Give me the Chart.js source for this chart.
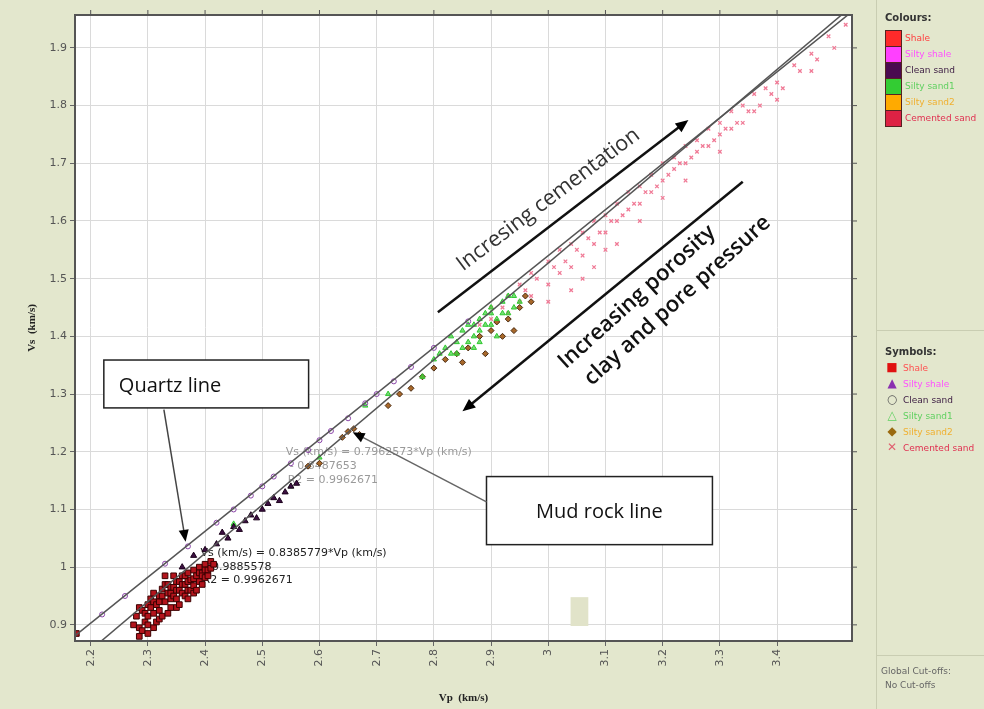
<!DOCTYPE html>
<html>
<head>
<meta charset="utf-8">
<script src="https://cdn.jsdelivr.net/npm/chart.js@4.4.0/dist/chart.umd.min.js"></script>
<style>
  html, body { margin: 0; padding: 0; background: #e3e7cd; }
  #wrap { position: relative; width: 984px; height: 709px; overflow: hidden; }
  #myChart { position: absolute; left: 0; top: 0; }
  #side { position: absolute; left: 876px; top: 0; width: 108px; height: 709px;
          border-left: 1px solid #c9cdb2; font-family: "DejaVu Sans", sans-serif; font-size: 9px;
          white-space: nowrap; overflow: hidden; }
  .hdr { position: absolute; left: 8px; font-weight: bold; color: #333; font-size: 10px; }
  .row { position: absolute; left: 8px; height: 16px; line-height: 16px; }
  .sw { display: inline-block; width: 15px; height: 15px; vertical-align: top; border: 1px solid #552222; border-bottom: none; margin-right: 3px; }
  .sym { display: inline-block; width: 14px; text-align: center; margin-right: 4px; font-size: 12px; }
  .sep { position: absolute; left: 0; width: 108px; border-top: 1px solid #c9cdb2; }
  .note { position: absolute; left: 4px; color: #666; font-size: 9px; }
</style>
</head>
<body>
<div id="wrap">
  <canvas id="myChart" width="984" height="709"></canvas>
  <div id="side">
    <div class="hdr" style="top:12px">Colours:</div>
    <div class="row" style="top:30px"><span class="sw" style="background:#ff2a2a"></span><span style="color:#ff4040">Shale</span></div>
    <div class="row" style="top:46px"><span class="sw" style="background:#ff40ff"></span><span style="color:#ff50ff">Silty shale</span></div>
    <div class="row" style="top:62px"><span class="sw" style="background:#4a0a50"></span><span style="color:#3a1a40">Clean sand</span></div>
    <div class="row" style="top:78px"><span class="sw" style="background:#33cc33"></span><span style="color:#60d060">Silty sand1</span></div>
    <div class="row" style="top:94px"><span class="sw" style="background:#ffaa00"></span><span style="color:#f0b030">Silty sand2</span></div>
    <div class="row" style="top:110px"><span class="sw" style="background:#dd2244;border-bottom:1px solid #552222"></span><span style="color:#e03050">Cemented sand</span></div>
    <div class="sep" style="top:330px"></div>
    <div class="hdr" style="top:346px">Symbols:</div>
    <div class="row" style="top:359px"><span class="sym" style="color:#e01010">&#9632;</span><span style="color:#ff5050">Shale</span></div>
    <div class="row" style="top:375px"><span class="sym" style="color:#8a30b0">&#9650;</span><span style="color:#ff50ff">Silty shale</span></div>
    <div class="row" style="top:391px"><span class="sym" style="color:#555">&#9675;</span><span style="color:#3a1a40">Clean sand</span></div>
    <div class="row" style="top:407px"><span class="sym" style="color:#60d060">&#9651;</span><span style="color:#60d060">Silty sand1</span></div>
    <div class="row" style="top:423px"><span class="sym" style="color:#9a6a10">&#9670;</span><span style="color:#f0b030">Silty sand2</span></div>
    <div class="row" style="top:439px"><span class="sym" style="color:#e06070">&#10005;</span><span style="color:#e03050">Cemented sand</span></div>
    <div class="sep" style="top:655px"></div>
    <div class="note" style="top:666px">Global Cut-offs:</div>
    <div class="note" style="top:680px; left:8px">No Cut-offs</div>
  </div>
</div>
<script>
// Axis ticks
const xTicks = [2.2, 2.3, 2.4, 2.5, 2.6, 2.7, 2.8, 2.9, 3.0, 3.1, 3.2, 3.3, 3.4];
const yTicks = [0.9, 1.0, 1.1, 1.2, 1.3, 1.4, 1.5, 1.6, 1.7, 1.8, 1.9];

// Regression lines: Vs = a*Vp + b
const quartzLine = { a: 0.7962573, b: -0.8487653 };
const mudRockLine = { a: 0.8385779, b: -0.9885578 };
const lineVpRange = [2.1, 3.6];

// Scatter data [Vp, Vs]
const shalePts = [
  [2.175, 0.885], [2.275, 0.9], [2.28, 0.915], [2.285, 0.895], [2.285, 0.88], [2.285, 0.93], [2.29, 0.925],
  [2.29, 0.89], [2.295, 0.905], [2.295, 0.92], [2.3, 0.935], [2.3, 0.915], [2.3, 0.9], [2.3, 0.885],
  [2.305, 0.945], [2.305, 0.93], [2.31, 0.92], [2.31, 0.955], [2.31, 0.94], [2.31, 0.895], [2.315, 0.935],
  [2.315, 0.905], [2.32, 0.95], [2.32, 0.925], [2.32, 0.94], [2.32, 0.91], [2.325, 0.962], [2.325, 0.915],
  [2.325, 0.95], [2.33, 0.94], [2.33, 0.97], [2.33, 0.985], [2.335, 0.955], [2.335, 0.97], [2.335, 0.92],
  [2.34, 0.93], [2.34, 0.965], [2.34, 0.945], [2.34, 0.955], [2.345, 0.95], [2.345, 0.985], [2.345, 0.965],
  [2.35, 0.975], [2.35, 0.945], [2.35, 0.96], [2.35, 0.93], [2.355, 0.96], [2.355, 0.935], [2.355, 0.975],
  [2.36, 0.985], [2.36, 0.955], [2.36, 0.97], [2.365, 0.97], [2.365, 0.985], [2.365, 0.95], [2.37, 0.99],
  [2.37, 0.96], [2.37, 0.945], [2.37, 0.975], [2.375, 0.978], [2.375, 0.96], [2.38, 0.995], [2.38, 0.968],
  [2.38, 0.98], [2.38, 0.955], [2.385, 0.985], [2.385, 0.96], [2.39, 1.0], [2.39, 0.975], [2.39, 0.99],
  [2.395, 0.99], [2.395, 0.97], [2.395, 0.985], [2.4, 1.005], [2.4, 0.982], [2.4, 0.995], [2.405, 0.995],
  [2.405, 0.985], [2.41, 1.01], [2.41, 0.998], [2.415, 1.005]
];
const siltyShalePts = [
  [2.36, 1.0], [2.38, 1.02], [2.4, 1.03], [2.42, 1.04], [2.43, 1.06], [2.44, 1.05], [2.45, 1.07],
  [2.46, 1.065], [2.47, 1.08], [2.48, 1.09], [2.49, 1.085], [2.5, 1.1], [2.51, 1.11], [2.52, 1.12],
  [2.53, 1.115], [2.54, 1.13], [2.55, 1.14], [2.56, 1.145]
];
const cleanSandPts = [
  [2.22, 0.918], [2.26, 0.95], [2.33, 1.006], [2.37, 1.036], [2.42, 1.077], [2.45, 1.1], [2.48, 1.124],
  [2.5, 1.14], [2.52, 1.157], [2.55, 1.18], [2.58, 1.203], [2.6, 1.22], [2.62, 1.236], [2.65, 1.258],
  [2.68, 1.284], [2.7, 1.3], [2.73, 1.322], [2.76, 1.347], [2.8, 1.38], [2.86, 1.426]
];
const siltySand1Pts = [
  [2.45, 1.075], [2.55, 1.14], [2.6, 1.19], [2.68, 1.28], [2.72, 1.3], [2.78, 1.33], [2.8, 1.36],
  [2.81, 1.37], [2.82, 1.38], [2.83, 1.4], [2.83, 1.37], [2.84, 1.37], [2.84, 1.39], [2.85, 1.41],
  [2.85, 1.38], [2.86, 1.39], [2.86, 1.42], [2.87, 1.4], [2.87, 1.38], [2.87, 1.42], [2.88, 1.43],
  [2.88, 1.41], [2.88, 1.39], [2.89, 1.44], [2.89, 1.42], [2.9, 1.42], [2.9, 1.45], [2.9, 1.44],
  [2.91, 1.43], [2.91, 1.4], [2.92, 1.46], [2.92, 1.44], [2.93, 1.44], [2.93, 1.47], [2.94, 1.45],
  [2.94, 1.47], [2.95, 1.46]
];
const siltySand2Pts = [
  [2.58, 1.175], [2.6, 1.18], [2.64, 1.225], [2.65, 1.235], [2.66, 1.24], [2.67, 1.23], [2.72, 1.28],
  [2.74, 1.3], [2.76, 1.31], [2.78, 1.33], [2.8, 1.345], [2.82, 1.36], [2.84, 1.37], [2.85, 1.355],
  [2.86, 1.38], [2.88, 1.4], [2.89, 1.37], [2.9, 1.41], [2.91, 1.425], [2.92, 1.4], [2.93, 1.43],
  [2.94, 1.41], [2.95, 1.45], [2.96, 1.47], [2.97, 1.46]
];
const cementedSandPts = [
  [2.88, 1.42], [2.9, 1.45], [2.9, 1.43], [2.92, 1.45], [2.93, 1.47], [2.93, 1.44], [2.95, 1.49], [2.95, 1.46],
  [2.96, 1.48], [2.97, 1.51], [2.97, 1.47], [2.98, 1.5], [3.0, 1.53], [3.0, 1.49], [3.0, 1.46], [3.01, 1.52],
  [3.02, 1.55], [3.02, 1.51], [3.03, 1.53], [3.04, 1.56], [3.04, 1.52], [3.04, 1.48], [3.05, 1.55],
  [3.06, 1.58], [3.06, 1.54], [3.06, 1.5], [3.07, 1.57], [3.08, 1.6], [3.08, 1.56], [3.08, 1.52],
  [3.09, 1.58], [3.1, 1.61], [3.1, 1.58], [3.1, 1.55], [3.11, 1.6], [3.12, 1.63], [3.12, 1.6], [3.12, 1.56],
  [3.13, 1.61], [3.14, 1.65], [3.14, 1.62], [3.15, 1.63], [3.16, 1.66], [3.16, 1.63], [3.16, 1.6],
  [3.17, 1.65], [3.18, 1.68], [3.18, 1.65], [3.19, 1.66], [3.2, 1.7], [3.2, 1.67], [3.2, 1.64],
  [3.21, 1.68], [3.22, 1.71], [3.22, 1.69], [3.23, 1.7], [3.24, 1.73], [3.24, 1.7], [3.24, 1.67],
  [3.25, 1.71], [3.26, 1.74], [3.26, 1.72], [3.27, 1.73], [3.28, 1.76], [3.28, 1.73], [3.29, 1.74],
  [3.3, 1.77], [3.3, 1.75], [3.3, 1.72], [3.31, 1.76], [3.32, 1.79], [3.32, 1.76], [3.33, 1.77],
  [3.34, 1.8], [3.34, 1.77], [3.35, 1.79], [3.36, 1.82], [3.36, 1.79], [3.37, 1.8], [3.38, 1.83],
  [3.39, 1.82], [3.4, 1.84], [3.4, 1.81], [3.41, 1.83], [3.43, 1.87], [3.44, 1.86], [3.46, 1.89],
  [3.46, 1.86], [3.47, 1.88], [3.49, 1.92], [3.5, 1.9], [3.52, 1.94]
];

function toXY(arr) {
  return arr.map(p => ({ x: p[0], y: p[1] }));
}
function lineData(l) {
  return lineVpRange.map(v => ({ x: v, y: l.a * v + l.b }));
}

// Draw an arrow between two canvas points
function drawArrow(ctx, x1, y1, x2, y2, color, width, head) {
  const ang = Math.atan2(y2 - y1, x2 - x1);
  ctx.save();
  ctx.strokeStyle = color;
  ctx.lineWidth = width;
  ctx.beginPath();
  ctx.moveTo(x1, y1);
  ctx.lineTo(x2 - Math.cos(ang) * head * 0.8, y2 - Math.sin(ang) * head * 0.8);
  ctx.stroke();
  ctx.fillStyle = '#000';
  ctx.beginPath();
  ctx.moveTo(x2, y2);
  ctx.lineTo(x2 - head * Math.cos(ang - 0.4), y2 - head * Math.sin(ang - 0.4));
  ctx.lineTo(x2 - head * Math.cos(ang + 0.4), y2 - head * Math.sin(ang + 0.4));
  ctx.closePath();
  ctx.fill();
  ctx.restore();
}

function rotText(ctx, text, x, y, deg, font, color) {
  ctx.save();
  ctx.translate(x, y);
  ctx.rotate(deg * Math.PI / 180);
  ctx.font = font;
  ctx.fillStyle = color;
  ctx.textAlign = 'center';
  ctx.textBaseline = 'middle';
  ctx.fillText(text, 0, 0);
  ctx.restore();
}

const decor = {
  id: 'decor',
  beforeDraw(chart) {
    const { ctx, chartArea: a } = chart;
    ctx.save();
    ctx.fillStyle = '#ffffff';
    ctx.fillRect(a.left, a.top, a.right - a.left, a.bottom - a.top);
    ctx.restore();
  },
  beforeDatasetsDraw(chart) {
    const { ctx, scales: { x, y } } = chart;
    ctx.save();
    ctx.font = '11px "DejaVu Sans"';
    ctx.textBaseline = 'middle';
    // equation of the upper line (grey)
    ctx.fillStyle = '#9a9a9a';
    let px = x.getPixelForValue(2.541), py = y.getPixelForValue(1.2);
    ctx.fillText('Vs (km/s) = 0.7962573*Vp (km/s)', px, py);
    ctx.fillText('- 0.8487653', px + 4, py + 14);
    ctx.fillText('R2 = 0.9962671', px + 2, py + 28);
    // equation of the lower line
    ctx.fillStyle = '#222';
    px = x.getPixelForValue(2.392); py = y.getPixelForValue(1.025);
    ctx.fillText('Vs (km/s) = 0.8385779*Vp (km/s)', px, py);
    ctx.fillText('- 0.9885578', px + 4, py + 14);
    ctx.fillText('R2 = 0.9962671', px + 2, py + 27);
    // small beige patch
    ctx.fillStyle = '#e1e3c9';
    const bx = x.getPixelForValue(3.039), by = y.getPixelForValue(0.948);
    ctx.fillRect(bx, by, x.getPixelForValue(3.07) - bx, y.getPixelForValue(0.898) - by);
    ctx.restore();
  },
  afterDatasetsDraw(chart) {
    const { ctx, chartArea: a, scales: { x, y } } = chart;
    const X = v => x.getPixelForValue(v), Y = v => y.getPixelForValue(v);

    // frame + ticks on top and right
    ctx.save();
    ctx.strokeStyle = '#555';
    ctx.lineWidth = 2;
    ctx.strokeRect(a.left, a.top, a.right - a.left, a.bottom - a.top);
    ctx.lineWidth = 1;
    ctx.beginPath();
    xTicks.forEach(v => { ctx.moveTo(X(v), a.top); ctx.lineTo(X(v), a.top - 5); });
    yTicks.forEach(v => { ctx.moveTo(a.right, Y(v)); ctx.lineTo(a.right + 5, Y(v)); });
    ctx.stroke();
    ctx.restore();

    // label boxes
    ctx.save();
    ctx.fillStyle = '#fff';
    ctx.strokeStyle = '#222';
    ctx.lineWidth = 1.5;
    let x1 = X(2.223), y1 = Y(1.359), x2 = X(2.581), y2 = Y(1.276);
    ctx.fillRect(x1, y1, x2 - x1, y2 - y1);
    ctx.strokeRect(x1, y1, x2 - x1, y2 - y1);
    ctx.fillStyle = '#111';
    ctx.font = '20px "Open Sans"';
    ctx.textBaseline = 'middle';
    ctx.fillText('Quartz line', x1 + 15, (y1 + y2) / 2 + 2);
    x1 = X(2.892); y1 = Y(1.157); x2 = X(3.287); y2 = Y(1.039);
    ctx.fillStyle = '#fff';
    ctx.fillRect(x1, y1, x2 - x1, y2 - y1);
    ctx.strokeRect(x1, y1, x2 - x1, y2 - y1);
    ctx.fillStyle = '#111';
    ctx.textAlign = 'center';
    ctx.fillText('Mud rock line', (x1 + x2) / 2, (y1 + y2) / 2 + 2);
    ctx.restore();

    // arrows
    drawArrow(ctx, X(2.328), Y(1.273), X(2.366), Y(1.044), '#444', 1.5, 13);
    drawArrow(ctx, X(2.892), Y(1.113), X(2.658), Y(1.234), '#666', 1.5, 13);
    drawArrow(ctx, X(2.807), Y(1.442), X(3.245), Y(1.775), '#111', 2.5, 14);
    drawArrow(ctx, X(3.34), Y(1.668), X(2.85), Y(1.27), '#111', 2.5, 14);

    // rotated captions
    rotText(ctx, 'Incresing cementation', X(3.0), Y(1.637), -37, '21.5px "Open Sans"', '#333');
    rotText(ctx, 'Increasing porosity', X(3.155), Y(1.468), -42, '600 22px "Open Sans"', '#111');
    rotText(ctx, 'clay and pore pressure', X(3.226), Y(1.462), -42, '600 22px "Open Sans"', '#111');
  }
};

const tickFont = { family: 'DejaVu Sans', size: 11 };

new Chart(document.getElementById('myChart'), {
  type: 'scatter',
  data: {
    datasets: [
      { label: 'Quartz line', type: 'line', data: lineData(quartzLine), borderColor: '#555', borderWidth: 1.5, pointRadius: 0, order: 0 },
      { label: 'Mud rock line', type: 'line', data: lineData(mudRockLine), borderColor: '#555', borderWidth: 1.5, pointRadius: 0, order: 0 },
      { label: 'Shale', data: toXY(shalePts), pointStyle: 'rect', pointRadius: 4, backgroundColor: '#b3141c', borderColor: '#3a0000', borderWidth: 1, order: 1 },
      { label: 'Silty shale', data: toXY(siltyShalePts), pointStyle: 'triangle', pointRadius: 3.5, backgroundColor: '#3c0f42', borderColor: '#1a001a', borderWidth: 1, order: 2 },
      { label: 'Clean sand', data: toXY(cleanSandPts), pointStyle: 'circle', pointRadius: 2.5, backgroundColor: 'rgba(0,0,0,0)', borderColor: '#8a44a8', borderWidth: 1, order: 3 },
      { label: 'Silty sand1', data: toXY(siltySand1Pts), pointStyle: 'triangle', pointRadius: 3, backgroundColor: 'rgba(60,210,60,0.7)', borderColor: '#30c830', borderWidth: 1, order: 4 },
      { label: 'Silty sand2', data: toXY(siltySand2Pts), pointStyle: 'rectRot', pointRadius: 3, backgroundColor: '#a8682a', borderColor: '#4a2a10', borderWidth: 1, order: 5 },
      { label: 'Cemented sand', data: toXY(cementedSandPts), pointStyle: 'crossRot', pointRadius: 2.5, borderColor: '#f07a96', borderWidth: 1.3, order: 6 }
    ]
  },
  options: {
    responsive: false,
    animation: false,
    layout: { padding: { left: 22, top: 15, right: 132, bottom: 0 } },
    plugins: { legend: { display: false }, tooltip: { enabled: false } },
    scales: {
      x: {
        type: 'linear',
        min: 2.1726,
        max: 3.531,
        afterBuildTicks: s => { s.ticks = xTicks.map(v => ({ value: v })); },
        afterFit: s => { s.height = 68; },
        ticks: { font: tickFont, color: '#555', minRotation: 90, maxRotation: 90, padding: 3, callback: v => String(v) },
        grid: { color: '#dadada', tickColor: '#666', tickLength: 5 },
        border: { color: '#555', width: 2 },
        title: { display: true, text: 'Vp  (km/s)', font: { family: 'Liberation Serif', size: 11, weight: 'bold' }, color: '#222', padding: { top: 4, bottom: 4 } }
      },
      y: {
        type: 'linear',
        min: 0.872,
        max: 1.957,
        afterBuildTicks: s => { s.ticks = yTicks.map(v => ({ value: v })); },
        afterFit: s => { s.width = 53; },
        ticks: { font: tickFont, color: '#555', padding: 3, callback: v => String(v) },
        grid: { color: '#dadada', tickColor: '#666', tickLength: 5 },
        border: { color: '#555', width: 2 },
        title: { display: true, text: 'Vs  (km/s)', font: { family: 'Liberation Serif', size: 11, weight: 'bold' }, color: '#222', padding: { top: 4, bottom: 4 } }
      }
    }
  },
  plugins: [decor]
});
</script>
</body>
</html>
